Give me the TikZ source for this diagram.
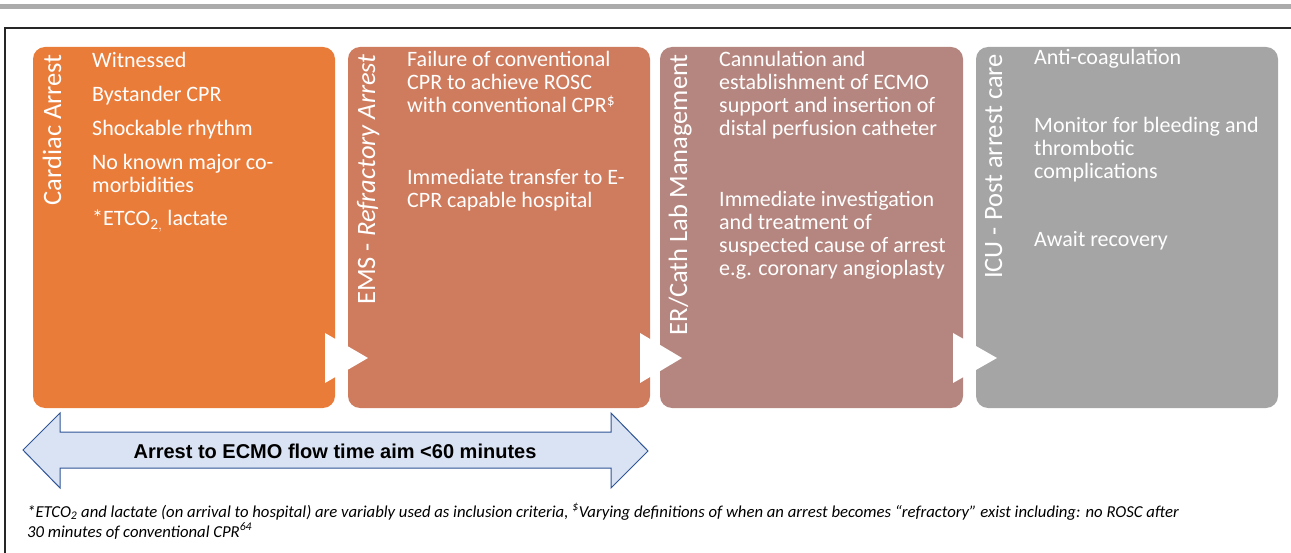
\documentclass[tikz,border=0pt]{standalone}
\usepackage{fontspec}
\setmainfont{Carlito}
\newfontfamily\arialfont{Liberation Sans}
\definecolor{cA}{HTML}{EA7C3A}
\definecolor{cB}{HTML}{CF7B5D}
\definecolor{cC}{HTML}{B5867F}
\definecolor{cD}{HTML}{A5A5A5}
\definecolor{arrfill}{HTML}{DAE3F3}
\definecolor{arrline}{HTML}{2F5597}
\definecolor{topbar}{HTML}{ABABAB}
\begin{document}
\begin{tikzpicture}[x=1pt,y=-1pt,
  stage/.style={rounded corners=12pt,draw=none,minimum width=302,minimum height=361,anchor=north west,inner sep=0pt,outer sep=0pt},
  title/.style={text=white,font=\fontsize{26.5}{28}\selectfont,rotate=90,anchor=base east,inner sep=0pt},
  body/.style={text=white,font=\fontsize{22}{23}\selectfont,anchor=base west,inner sep=0pt},
  chev/.style={fill=white},
  note/.style={font=\fontsize{16.7}{20}\selectfont\itshape,anchor=base west,inner sep=0pt}
  ]
\useasboundingbox (0,0) rectangle (1291,553);
\fill[topbar] (0,4) rectangle (1291,9);
\draw[line width=2pt,black!85] (5,560) -- (5,28) -- (1300,28);

% stage boxes
\node[stage,fill=cA] (b1) at (33,47) {};
\node[stage,fill=cB,minimum width=302] (b2) at (348,47) {};
\node[stage,fill=cC,minimum width=303] (b3) at (660,47) {};
\node[stage,fill=cD] (b4) at (976,47) {};

% chevrons
\fill[chev] (325,333) -- (368,358) -- (325,383) -- cycle;
\fill[chev] (640,333) -- (682,358) -- (640,383) -- cycle;
\fill[chev] (953,333) -- (997,358) -- (953,383) -- cycle;

% titles
\node[title] (t1) at (61,54) {Cardiac Arrest};
\node[title] (t2) at (375,54) {EMS - \textit{Refractory Arrest}};
\node[title] (t3) at (687,54) {ER/Cath Lab Management};
\node[title] (t4) at (1002,54) {ICU - Post arrest care};

% box 1
\node[body] (p11) at (92,68) {Witnessed};
\node[body] (p12) at (92,102) {Bystander CPR};
\node[body] (p13) at (92,136) {Shockable rhythm};
\node[body] (p14) at (92,170) {\parbox[t]{240pt}{\raggedright No known major co-\\morbidities}};
\node[body] (p15) at (92,226) {*ETCO$_{\mathrm{2,}}$ lactate};

% box 2
\node[body] (p21) at (407,67) {\parbox[t]{240pt}{\raggedright Failure of conventional\\CPR to achieve ROSC\\with conventional CPR\textsuperscript{\$}}};
\node[body] (p22) at (407,185) {\parbox[t]{240pt}{\raggedright Immediate transfer to E-\\CPR capable hospital}};

% box 3
\node[body] (p31) at (719,67) {\parbox[t]{240pt}{\raggedright Cannulation and\\establishment of ECMO\\support and insertion of\\distal perfusion catheter}};
\node[body] (p32) at (719,207) {\parbox[t]{240pt}{\raggedright Immediate investigation\\and treatment of\\suspected cause of arrest\\e.g. coronary angioplasty}};

% box 4
\node[body] (p41) at (1034,65) {Anti-coagulation};
\node[body] (p42) at (1034,133) {\parbox[t]{240pt}{\raggedright Monitor for bleeding and\\thrombotic\\complications}};
\node[body] (p43) at (1034,247) {Await recovery};

% double arrow
\filldraw[fill=arrfill,draw=arrline,line width=1pt,line join=miter]
  (23,450) -- (60,413) -- (60,432) -- (611,432) -- (611,413) -- (648,451)
  -- (611,488) -- (611,468) -- (60,468) -- (60,488) -- cycle;
\node[font=\arialfont\bfseries\fontsize{20}{24}\selectfont,anchor=base,inner sep=0pt] (lab) at (335,458) {Arrest to ECMO flow time aim <60 minutes};

% footnote
\node[note] (n1) at (27,517) {*ETCO\textsubscript{2} and lactate (on arrival to hospital) are variably used as inclusion criteria, \textsuperscript{\$}Varying definitions of when an arrest becomes “refractory” exist including: no ROSC after};
\node[note] (n2) at (27,537) {30 minutes of conventional CPR\textsuperscript{64}};
\end{tikzpicture}
\end{document}
